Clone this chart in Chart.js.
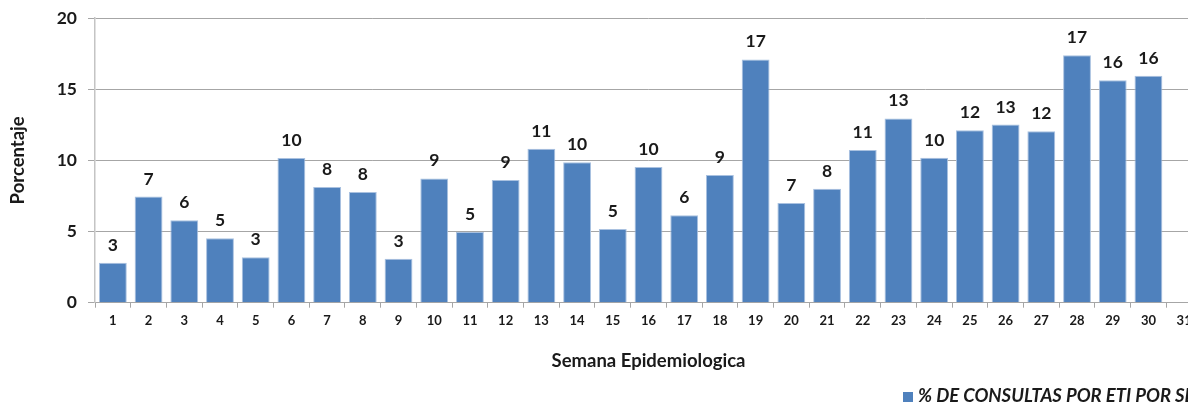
<!DOCTYPE html>
<html>
<head>
<meta charset="utf-8">
<title>% de consultas por ETI por semana</title>
<script src="https://cdn.jsdelivr.net/npm/chart.js@4.4.1/dist/chart.umd.min.js"></script>
<style>
    html, body { margin: 0; padding: 0; background: #fff; width: 1188px; height: 402px; overflow: hidden; }
    #wrap { position: relative; width: 1210px; height: 402px; }
    #legend { position: absolute; left: 903px; top: 384px; white-space: nowrap; font: italic bold 18.5px Lato, sans-serif; color: #1a1a1a; }
    #legend .box { display: inline-block; width: 10px; height: 10px; background: #4F81BD; margin-right: 5px; }
</style>
</head>
<body>
<div id="wrap">
    <canvas id="etiChart" width="1210" height="402"></canvas>
    <div id="legend"></div>
</div>
<script>
const semanas = ['1', '2', '3', '4', '5', '6', '7', '8', '9', '10', '11', '12', '13', '14', '15', '16',
    '17', '18', '19', '20', '21', '22', '23', '24', '25', '26', '27', '28', '29', '30', '31'];
const porcentaje = [2.8, 7.46, 5.8, 4.53, 3.2, 10.17, 8.13, 7.77, 3.08, 8.73, 4.96, 8.62, 10.82, 9.86, 5.17,
    9.54, 6.15, 8.97, 17.09, 7.0, 8.0, 10.73, 12.94, 10.19, 12.11, 12.51, 12.04, 17.39, 15.63, 15.94, null];
const yTicks = [0, 5, 10, 15, 20];
const serieLabel = '% DE CONSULTAS POR ETI POR SEMANA';

const barColor = '#4F81BD';
const textColor = '#1a1a1a';
const gridColor = '#a6a6a6';

// etiquetas de valor encima de cada barra
const valueLabels = {
    id: 'valueLabels',
    afterDatasetsDraw(chart) {
        const ctx = chart.ctx;
        const meta = chart.getDatasetMeta(0);
        ctx.save();
        ctx.font = 'bold 17.5px Lato';
        ctx.fillStyle = textColor;
        ctx.textAlign = 'center';
        ctx.textBaseline = 'alphabetic';
        meta.data.forEach((bar, i) => {
            const v = porcentaje[i];
            if (v === null) return;
            ctx.fillText(Math.round(v), bar.x, bar.y - 12);
        });
        ctx.restore();
    }
};

const ctx = document.getElementById('etiChart').getContext('2d');
new Chart(ctx, {
    type: 'bar',
    data: {
        labels: semanas,
        datasets: [{
            label: serieLabel,
            data: porcentaje,
            backgroundColor: barColor,
            borderColor: '#a9c1e0',
            borderWidth: 1,
            barPercentage: 0.78,
            categoryPercentage: 1
        }]
    },
    options: {
        responsive: false,
        animation: false,
        devicePixelRatio: 1,
        layout: { padding: { top: 18, right: 8, bottom: 0, left: 0 } },
        plugins: {
            legend: { display: false },
            tooltip: { enabled: false }
        },
        scales: {
            x: {
                grid: { drawOnChartArea: false, drawTicks: true, tickLength: 5, color: gridColor, offset: true },
                border: { color: gridColor },
                ticks: { color: textColor, font: { family: 'Lato', weight: 'bold', size: 13 }, padding: 5, maxRotation: 0, autoSkip: false },
                title: {
                    display: true,
                    text: 'Semana Epidemiologica',
                    color: textColor,
                    font: { family: 'Lato', weight: 'bold', size: 18.5 },
                    padding: { top: 0, bottom: 30 }
                },
                afterFit: scale => { scale.height = 99.3; }
            },
            y: {
                min: 0,
                max: 20,
                afterBuildTicks: scale => { scale.ticks = yTicks.map(v => ({ value: v })); },
                grid: { color: gridColor, tickLength: 7 },
                border: { color: '#c4c4c4', width: 1.5 },
                ticks: { color: textColor, font: { family: 'Lato', weight: 'bold', size: 17.5 }, padding: 11 },
                title: {
                    display: true,
                    text: 'Porcentaje',
                    color: textColor,
                    font: { family: 'Lato', weight: 'bold', size: 18.5 },
                    padding: { top: 7, bottom: 0 }
                },
                afterFit: scale => {
                    scale.width = 95;
                    scale.paddingTop = 8;
                    scale.paddingBottom = 8;
                }
            }
        }
    },
    plugins: [valueLabels]
});

document.getElementById('legend').innerHTML = '<span class="box"></span>' + serieLabel;
</script>
</body>
</html>
